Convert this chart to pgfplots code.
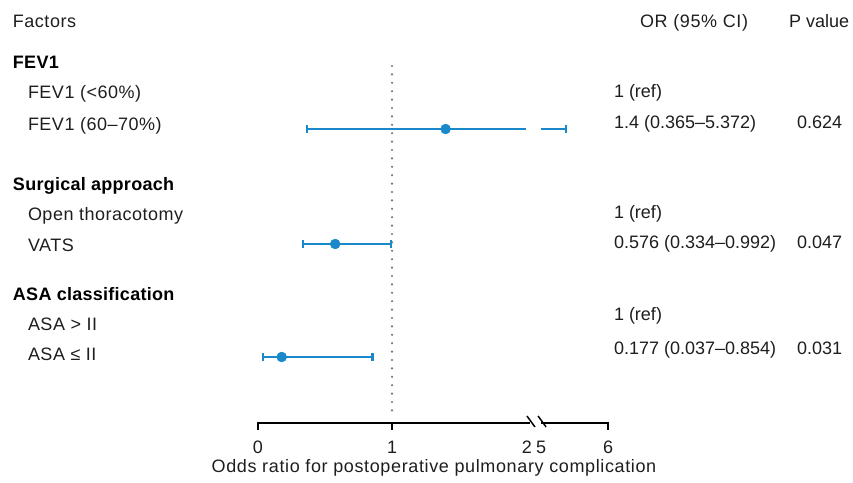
\documentclass[border=0pt]{standalone}
\usepackage{pgfplots}
\pgfplotsset{compat=1.18}
\usepackage{fontspec}
\setmainfont{Liberation Sans}
\newfontfamily\wide[LetterSpace=2.8]{Liberation Sans}
\newfontfamily\widest[LetterSpace=3.5]{Liberation Sans}
\newfontfamily\boldwide[LetterSpace=1.5]{Liberation Sans Bold}
\definecolor{ciblue}{RGB}{26,137,204}
\definecolor{refgray}{RGB}{115,115,115}
\definecolor{txt}{RGB}{30,30,30}
\newcommand{\fs}{\fontsize{13.5pt}{16pt}\selectfont}
\tikzset{t/.style={inner sep=0pt, outer sep=0pt, text=txt},
  lab/.style={t, anchor=base west, font=\fs\wide},
  hdr/.style={t, anchor=base west, font=\fs\boldwide, text=black},
  num/.style={t, anchor=base west}}
\begin{document}%
\begin{tikzpicture}[font=\fs]%
\begin{axis}[
  name=main,
  scale only axis, width=639.75pt, height=361.5pt,
  xmin=-1.92537, xmax=4.44030, ymin=0, ymax=482, y dir=reverse,
  hide axis, clip=false,
  x coord trafo/.code={\pgfmathparse{#1<4.5 ? #1 : 2.112+0.5*(#1-5)}},
]
% reference line OR = 1
\addplot[refgray, line width=1.8pt, line cap=round, dash pattern=on 0pt off 6.3pt] coordinates {(1,66) (1,418)};
% FEV1 (60-70%): OR 1.4 (0.365-5.372)
\addplot[ciblue, line width=2.2pt] coordinates {(0.365,129) (2.0,129)};
\addplot[ciblue, line width=2.2pt] coordinates {(5.0,129) (5.372,129)};
\addplot[ciblue, only marks, mark=|, mark size=3pt, mark options={line width=1.6pt}] coordinates {(0.365,129) (5.372,129)};
\addplot[ciblue, only marks, mark=*, mark size=3.7pt] coordinates {(1.4,129)};
% VATS: 0.576 (0.334-0.992)
\addplot[ciblue, line width=2.2pt] coordinates {(0.334,244) (0.992,244)};
\addplot[ciblue, only marks, mark=|, mark size=3pt, mark options={line width=1.6pt}] coordinates {(0.334,244) (0.992,244)};
\addplot[ciblue, only marks, mark=*, mark size=3.7pt] coordinates {(0.576,244)};
% ASA <= II: 0.177 (0.037-0.854)
\addplot[ciblue, line width=2.2pt] coordinates {(0.037,357) (0.854,357)};
\addplot[ciblue, only marks, mark=|, mark size=3pt, mark options={line width=1.6pt}] coordinates {(0.037,357) (0.854,357)};
\addplot[ciblue, only marks, mark=*, mark size=3.7pt] coordinates {(0.177,357)};
% x axis with break
\draw[black, line width=1.5pt] (axis cs:0,423) -- (axis cs:2.03,423);
\draw[black, line width=1.5pt] (axis cs:5.0,423) -- (axis cs:6,423);
\draw[black, line width=1.5pt] (axis cs:0,421.5) -- (axis cs:0,430);
\draw[black, line width=1.5pt] (axis cs:1,421.5) -- (axis cs:1,430);
\draw[black, line width=1.5pt] (axis cs:6,421.5) -- (axis cs:6,430);
\draw[black, line width=1.1pt] (axis cs:2.007,416) -- (axis cs:2.067,427);
\draw[black, line width=1.1pt] (axis cs:2.090,416) -- (axis cs:2.150,427);
\node[t, anchor=base] at (axis cs:0,453) {0};
\node[t, anchor=base] at (axis cs:1,453) {1};
\node[t, anchor=base] at (axis cs:2.007,453) {2};
\node[t, anchor=base] at (axis cs:5,453) {5};
\node[t, anchor=base] at (axis cs:6,453) {6};
\node[t, anchor=base, font=\fs\widest] at (axis cs:1.3134,472) {Odds ratio for postoperative pulmonary complication};
% left column
\node[lab] at (axis cs:-1.8284,27) {Factors};
\node[hdr] at (axis cs:-1.8284,68) {FEV1};
\node[lab] at (axis cs:-1.7164,98) {FEV1 (<60\%)};
\node[lab] at (axis cs:-1.7164,130) {FEV1 (60–70\%)};
\node[hdr] at (axis cs:-1.8284,190) {Surgical approach};
\node[lab] at (axis cs:-1.7164,220) {Open thoracotomy};
\node[lab] at (axis cs:-1.7164,251) {VATS};
\node[hdr] at (axis cs:-1.8284,300) {ASA classification};
\node[lab] at (axis cs:-1.7164,330) {ASA > II};
\node[lab] at (axis cs:-1.7164,360) {ASA ≤ II};
% right columns
\node[t, anchor=base west, font=\fs\widest] at (axis cs:2.8507,27) {OR (95\% CI)};
\node[num] at (axis cs:3.9627,27) {P value};
\node[num] at (axis cs:2.6567,97) {1 (ref)};
\node[num] at (axis cs:2.6567,128) {1.4 (0.365–5.372)};
\node[num] at (axis cs:4.0224,128) {0.624};
\node[num] at (axis cs:2.6567,218) {1 (ref)};
\node[num] at (axis cs:2.6567,248) {0.576 (0.334–0.992)};
\node[num] at (axis cs:4.0224,248) {0.047};
\node[num] at (axis cs:2.6567,320) {1 (ref)};
\node[num] at (axis cs:2.6567,354) {0.177 (0.037–0.854)};
\node[num] at (axis cs:4.0224,354) {0.031};
\end{axis}%
\pgfresetboundingbox
\useasboundingbox (main.south west) rectangle (main.north east);%
\end{tikzpicture}%
\end{document}
